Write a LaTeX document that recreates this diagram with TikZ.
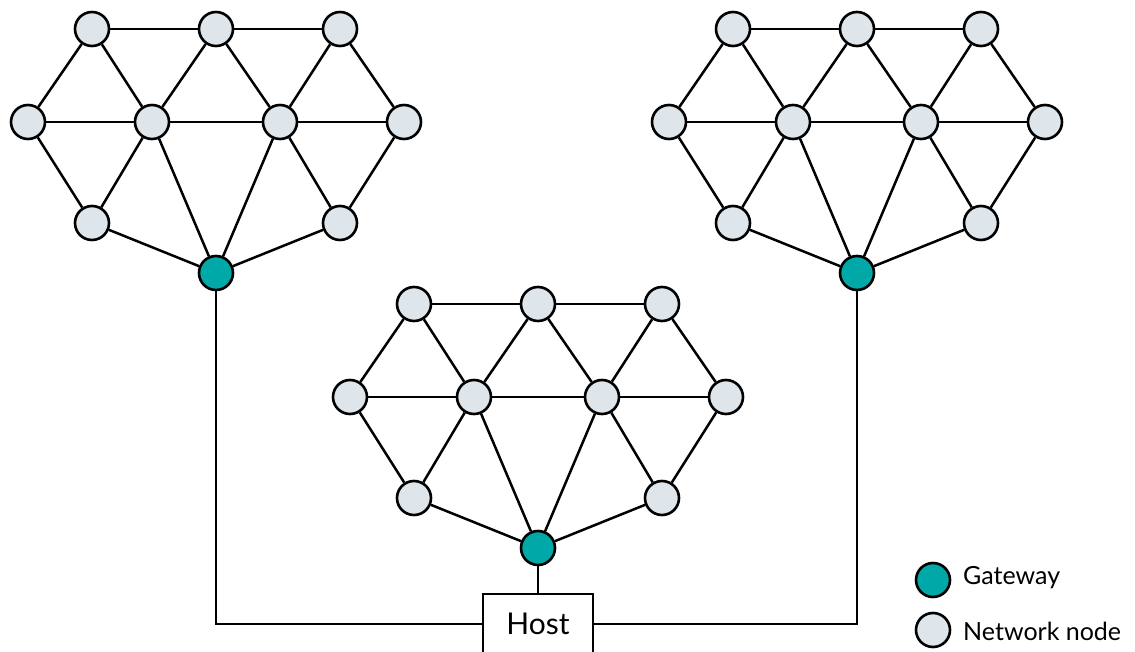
\documentclass[tikz,border=0pt]{standalone}
\usepackage{fontspec}
\setmainfont{Lato}
\definecolor{gwteal}{RGB}{0,168,168}
\definecolor{netfill}{RGB}{223,230,235}
\tikzset{
  net/.style={circle, draw=black, fill=netfill, line width=2.6pt, minimum size=34pt, inner sep=0pt},
  gw/.style={circle, draw=black, fill=gwteal, line width=2.6pt, minimum size=34pt, inner sep=0pt},
  link/.style={line width=2.5pt, draw=black},
  hostbox/.style={draw=black, fill=white, line width=2.5pt, minimum width=110pt, minimum height=60pt, inner sep=0pt, font=\fontsize{30}{34}\selectfont},
  legtext/.style={anchor=west, inner sep=0pt, font=\fontsize{25}{29}\selectfont}
}
\newcommand{\meshcluster}[3]{%
  \begin{scope}[shift={(#2,#3)}]
    \node[net] (#1t0) at (92,29) {};
    \node[net] (#1t1) at (216,29) {};
    \node[net] (#1t2) at (340,29) {};
    \node[net] (#1m0) at (28,122) {};
    \node[net] (#1m1) at (152,122) {};
    \node[net] (#1m2) at (280,122) {};
    \node[net] (#1m3) at (404,122) {};
    \node[net] (#1b0) at (92,223) {};
    \node[net] (#1b1) at (340,223) {};
    \node[gw] (#1g) at (216,273) {};
  \end{scope}
  \draw[link] (#1t0) -- (#1t1) -- (#1t2);
  \draw[link] (#1m0) -- (#1m1) -- (#1m2) -- (#1m3);
  \draw[link] (#1t0) -- (#1m0);
  \draw[link] (#1t0) -- (#1m1);
  \draw[link] (#1t1) -- (#1m1);
  \draw[link] (#1t1) -- (#1m2);
  \draw[link] (#1t2) -- (#1m2);
  \draw[link] (#1t2) -- (#1m3);
  \draw[link] (#1m0) -- (#1b0);
  \draw[link] (#1m1) -- (#1b0);
  \draw[link] (#1m1) -- (#1g);
  \draw[link] (#1m2) -- (#1g);
  \draw[link] (#1m2) -- (#1b1);
  \draw[link] (#1m3) -- (#1b1);
  \draw[link] (#1b0) -- (#1g);
  \draw[link] (#1b1) -- (#1g);
}
\begin{document}
\begin{tikzpicture}[x=1pt,y=-1pt]
  \useasboundingbox (0,0) rectangle (1135,652);
  \meshcluster{a}{0}{0}
  \meshcluster{b}{641}{0}
  \meshcluster{c}{322}{275}
  \node[hostbox] (host) at (538,624) {Host};
  \draw[link] (cg) -- (host);
  \draw[link] (host.west) -| (ag);
  \draw[link] (host.east) -| (bg);
  \node[gw] (leggw) at (933,580) {};
  \node[net] (legnet) at (933,630) {};
  \node[legtext] (leggwt) at (963,578) {Gateway};
  \node[legtext] (legnett) at (963,631) {Network node};
\end{tikzpicture}
\end{document}
